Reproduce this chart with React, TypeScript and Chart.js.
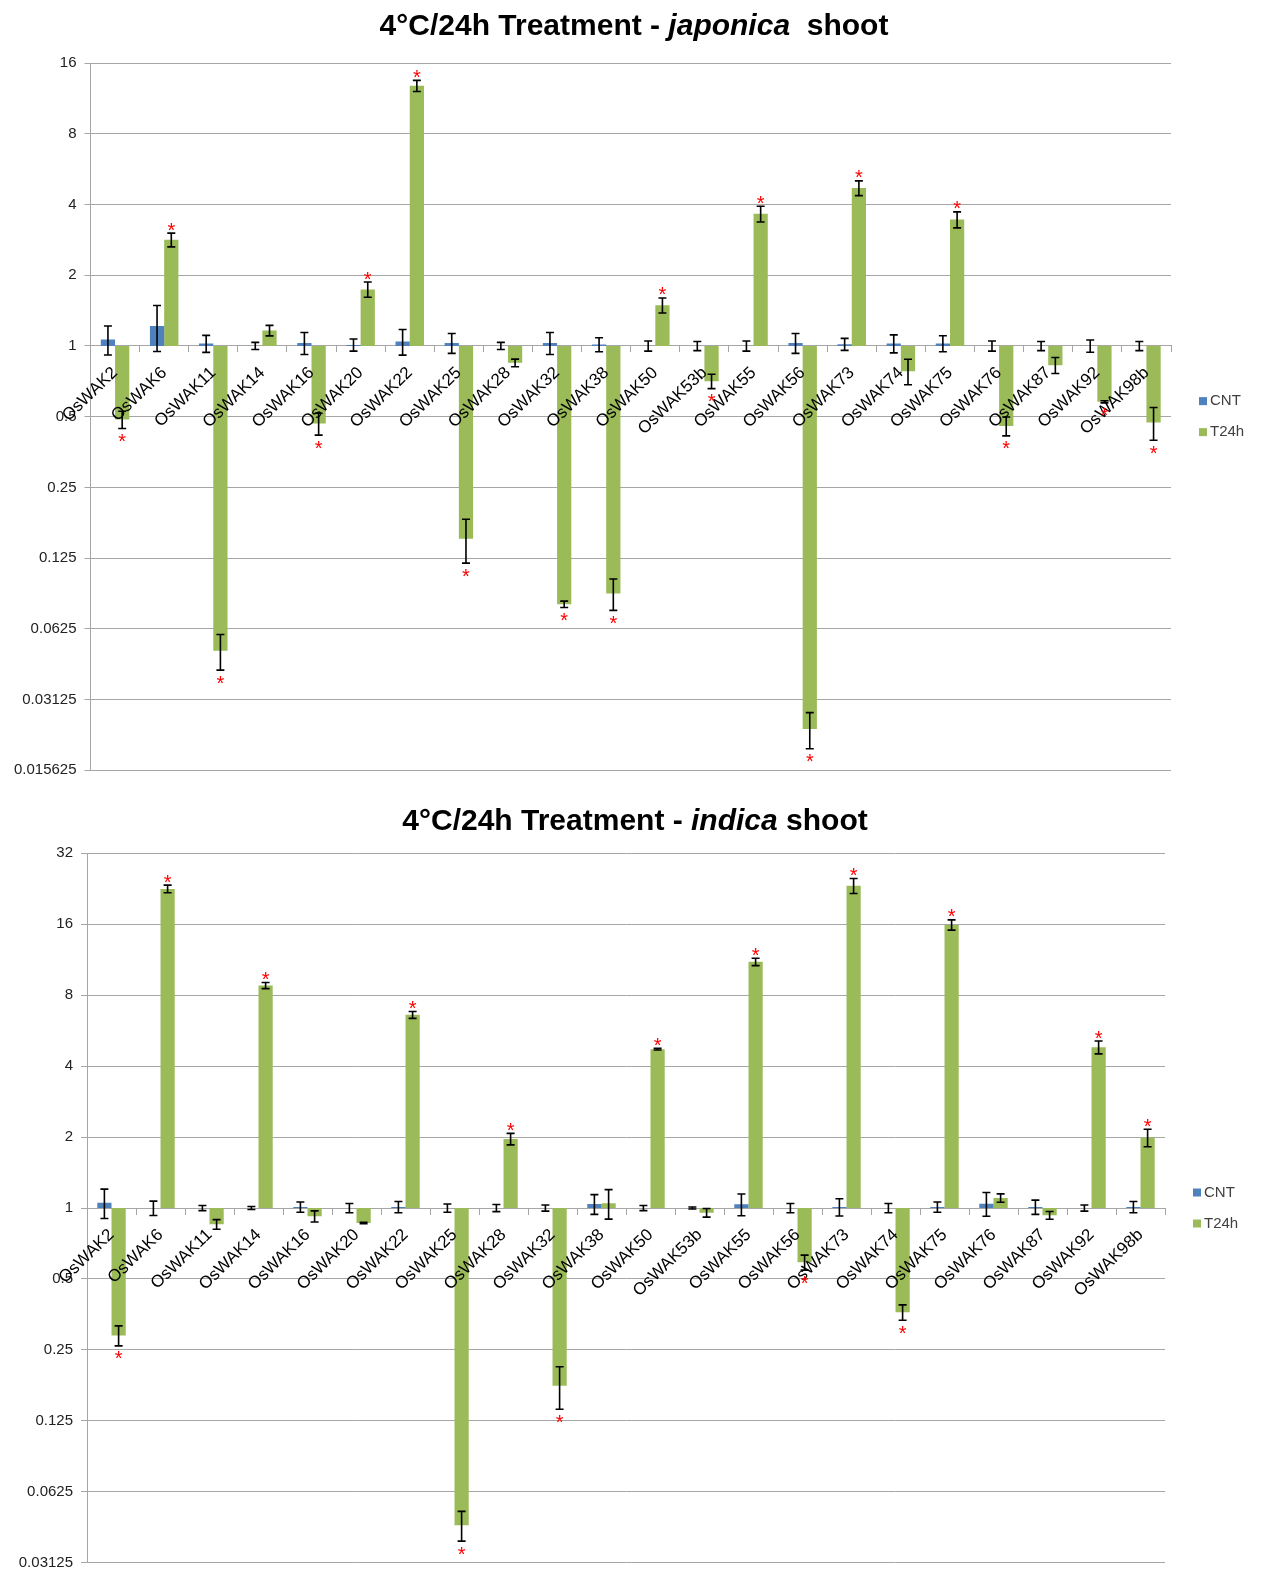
import React, { useEffect, useRef } from 'react';
import { Chart, registerables } from 'chart.js';

Chart.register(...registerables);

// ---------------- DATA ----------------
const categories = [
  'OsWAK2', 'OsWAK6', 'OsWAK11', 'OsWAK14', 'OsWAK16', 'OsWAK20', 'OsWAK22', 'OsWAK25',
  'OsWAK28', 'OsWAK32', 'OsWAK38', 'OsWAK50', 'OsWAK53b', 'OsWAK55', 'OsWAK56', 'OsWAK73',
  'OsWAK74', 'OsWAK75', 'OsWAK76', 'OsWAK87', 'OsWAK92', 'OsWAK98b',
];

const seriesNames = ['CNT', 'T24h'];

// japonica shoot
const japonicaCNT = [1.065, 1.217, 1.024, 1.0, 1.03, 1.01, 1.044, 1.03, 1.0, 1.03, 1.014, 1.0, 1.0, 1.0, 1.03, 1.017, 1.024, 1.024, 1.0, 1.0, 1.0, 1.0];
const japonicaCNTErr = [0.15, 0.27, 0.085, 0.035, 0.11, 0.06, 0.13, 0.1, 0.035, 0.11, 0.07, 0.05, 0.045, 0.05, 0.1, 0.06, 0.09, 0.08, 0.05, 0.045, 0.06, 0.045];
const japonicaT24h = [0.486, 2.83, 0.0504, 1.163, 0.467, 1.74, 12.8, 0.151, 0.847, 0.0795, 0.0884, 1.49, 0.708, 3.65, 0.0234, 4.7, 0.78, 3.45, 0.456, 0.828, 0.578, 0.472];
const japonicaT24hErr = [0.041, 0.19, 0.0087, 0.06, 0.05, 0.13, 0.7, 0.032, 0.032, 0.0025, 0.0135, 0.11, 0.05, 0.28, 0.0041, 0.34, 0.097, 0.27, 0.042, 0.065, 0.006, 0.075];
const japonicaSignificant = [true, true, true, false, true, true, true, true, false, true, true, true, true, true, true, true, false, true, true, false, true, true];
const japonicaTicks = [0.015625, 0.03125, 0.0625, 0.125, 0.25, 0.5, 1, 2, 4, 8, 16];

// indica shoot
const indicaCNT = [1.053, 1.0, 1.0, 1.0, 1.01, 1.0, 1.01, 1.0, 1.0, 1.0, 1.04, 1.0, 1.0, 1.037, 1.0, 1.01, 1.0, 1.01, 1.043, 1.01, 1.0, 1.01];
const indicaCNTErr = [0.15, 0.07, 0.025, 0.015, 0.05, 0.045, 0.055, 0.04, 0.035, 0.03, 0.1, 0.025, 0.01, 0.11, 0.045, 0.085, 0.045, 0.05, 0.12, 0.07, 0.03, 0.055];
const indicaT24h = [0.288, 22.6, 0.853, 8.79, 0.922, 0.864, 6.6, 0.0451, 1.963, 0.176, 1.047, 4.72, 0.955, 11.08, 0.588, 23.3, 0.361, 15.9, 1.103, 0.931, 4.81, 1.99];
const indicaT24hErr = [0.028, 0.85, 0.04, 0.26, 0.05, 0.006, 0.22, 0.0065, 0.11, 0.036, 0.15, 0.04, 0.04, 0.4, 0.043, 1.7, 0.027, 0.8, 0.045, 0.035, 0.3, 0.17];
const indicaSignificant = [true, true, false, true, false, false, true, true, true, true, false, true, false, true, true, true, true, true, false, false, true, true];
const indicaTicks = [0.03125, 0.0625, 0.125, 0.25, 0.5, 1, 2, 4, 8, 16, 32];

// ---------------- STYLE ----------------
const FONT = '"Liberation Sans", Arial, sans-serif';
const COLORS = ['#4F81BD', '#9BBB59'];
const GRID = '#A6A6A6';

type PanelProps = {
  top: number;
  height: number;
  cnt: number[];
  cntErr: number[];
  t24: number[];
  t24Err: number[];
  significant: boolean[];
  ticks: number[];
  titleParts: [string, string, string];
  titleBaseline: number;
  titleCenter: number;
  axisWidth: number;
  pad: { top: number; right: number; bottom: number };
};

function Panel(props: PanelProps) {
  const ref = useRef<HTMLCanvasElement>(null);

  useEffect(() => {
    const canvas = ref.current!;
    const { cnt, cntErr, t24, t24Err, significant, ticks } = props;
    const values = [cnt, t24];
    const errors = [cntErr, t24Err];

    const titlePlugin = {
      id: 'mixedTitle',
      afterDraw(chart: any) {
        const ctx = chart.ctx;
        ctx.save();
        const fonts = [`bold 30px ${FONT}`, `italic bold 30px ${FONT}`, `bold 30px ${FONT}`];
        const widths = props.titleParts.map((t, i) => {
          ctx.font = fonts[i];
          return ctx.measureText(t).width;
        });
        const total = widths.reduce((a, b) => a + b, 0);
        let x = props.titleCenter - total / 2;
        ctx.fillStyle = '#000';
        ctx.textAlign = 'left';
        ctx.textBaseline = 'alphabetic';
        props.titleParts.forEach((t, i) => {
          ctx.font = fonts[i];
          ctx.fillText(t, x, props.titleBaseline);
          x += widths[i];
        });
        ctx.restore();
      },
    };

    const errorPlugin = {
      id: 'errorBars',
      afterDatasetsDraw(chart: any) {
        const ctx = chart.ctx;
        const y = chart.scales.y;
        ctx.save();
        ctx.strokeStyle = '#000';
        ctx.lineWidth = 1.6;
        chart.data.datasets.forEach((_ds: any, di: number) => {
          const meta = chart.getDatasetMeta(di);
          meta.data.forEach((el: any, i: number) => {
            const v = values[di][i];
            const e = errors[di][i];
            const x = el.x;
            const yHi = y.getPixelForValue(v + e);
            const yLo = y.getPixelForValue(Math.max(v - e, 1e-6));
            ctx.beginPath();
            ctx.moveTo(x, yHi);
            ctx.lineTo(x, yLo);
            ctx.moveTo(x - 4, yHi);
            ctx.lineTo(x + 4, yHi);
            ctx.moveTo(x - 4, yLo);
            ctx.lineTo(x + 4, yLo);
            ctx.stroke();
          });
        });
        ctx.restore();
      },
      afterDraw(chart: any) {
        const ctx = chart.ctx;
        const y = chart.scales.y;
        const meta = chart.getDatasetMeta(1);
        ctx.save();
        ctx.fillStyle = '#FF0000';
        ctx.font = `20px ${FONT}`;
        ctx.textAlign = 'center';
        ctx.textBaseline = 'alphabetic';
        meta.data.forEach((el: any, i: number) => {
          if (!significant[i]) return;
          const v = t24[i];
          const e = t24Err[i];
          let cy: number;
          if (v >= 1) cy = y.getPixelForValue(v + e) - 8;
          else cy = y.getPixelForValue(Math.max(v - e, 1e-6)) + 8;
          ctx.fillText('*', el.x, cy + 11.5);
        });
        ctx.restore();
      },
    };

    const legendPlugin = {
      id: 'sideLegend',
      afterDraw(chart: any) {
        const ctx = chart.ctx;
        const area = chart.chartArea;
        const cy = (area.top + area.bottom) / 2;
        ctx.save();
        ctx.font = `15px ${FONT}`;
        ctx.textAlign = 'left';
        ctx.textBaseline = 'middle';
        chart.data.datasets.forEach((ds: any, i: number) => {
          const yy = cy - 15.5 + i * 31;
          const x0 = area.right + 28;
          ctx.fillStyle = ds.backgroundColor;
          ctx.fillRect(x0, yy - 4, 8, 8);
          ctx.fillStyle = '#404040';
          ctx.fillText(ds.label, x0 + 11, yy);
        });
        ctx.restore();
      },
    };

    const chart = new Chart(canvas, {
      type: 'bar',
      data: {
        labels: categories,
        datasets: seriesNames.map((name, di) => ({
          label: name,
          data: values[di].map((v) => [1, v] as [number, number]),
          backgroundColor: COLORS[di],
          borderWidth: 0,
          categoryPercentage: 0.58,
          barPercentage: 1.0,
        })),
      },
      options: {
        animation: false,
        responsive: false,
        maintainAspectRatio: false,
        layout: { padding: { left: 0, top: props.pad.top, right: props.pad.right, bottom: props.pad.bottom } },
        plugins: {
          legend: { display: false },
          title: { display: false },
          tooltip: { enabled: false },
        },
        scales: {
          x: {
            position: { y: 1 } as any,
            offset: true,
            grid: {
              display: true,
              drawOnChartArea: false,
              drawTicks: true,
              tickLength: 6,
              color: GRID,
              offset: true,
            },
            border: { color: GRID, width: 1 },
            ticks: {
              autoSkip: false,
              minRotation: 44,
              maxRotation: 44,
              color: '#000',
              font: { family: FONT, size: 17 },
              padding: 11,
              z: 1,
            },
            afterFit: (s: any) => {
              s.paddingLeft = 0;
              s.paddingRight = 0;
            },
          },
          y: {
            type: 'logarithmic',
            min: ticks[0],
            max: ticks[ticks.length - 1],
            afterBuildTicks: (s: any) => {
              s.ticks = ticks.map((v) => ({ value: v }));
            },
            afterFit: (s: any) => {
              s.width = props.axisWidth;
              s.paddingTop = 0;
              s.paddingBottom = 0;
            },
            grid: { color: GRID, tickLength: 6, lineWidth: 1 },
            border: { color: GRID, width: 1 },
            ticks: {
              callback: (v: any) => String(v),
              color: '#222',
              font: { family: FONT, size: 15 },
              padding: 8,
            },
          },
        },
      } as any,
      plugins: [errorPlugin, legendPlugin, titlePlugin],
    });
    return () => chart.destroy();
  }, []);

  return (
    <canvas
      ref={ref}
      width={1271}
      height={props.height}
      style={{ position: 'absolute', left: 0, top: props.top, width: 1271, height: props.height, display: 'block' }}
    />
  );
}

export default function App() {
  return (
    <div style={{ position: 'absolute', left: 0, top: 0, width: 1271, height: 1572, background: '#fff', overflow: 'hidden' }}>
      <Panel
        top={0}
        height={790}
        cnt={japonicaCNT}
        cntErr={japonicaCNTErr}
        t24={japonicaT24h}
        t24Err={japonicaT24hErr}
        significant={japonicaSignificant}
        ticks={japonicaTicks}
        titleParts={['4°C/24h Treatment - ', 'japonica', '  shoot']}
        titleBaseline={35}
        titleCenter={634}
        axisWidth={90.5}
        pad={{ top: 63, right: 100, bottom: 19.7 }}
      />
      <Panel
        top={790}
        height={782}
        cnt={indicaCNT}
        cntErr={indicaCNTErr}
        t24={indicaT24h}
        t24Err={indicaT24hErr}
        significant={indicaSignificant}
        ticks={indicaTicks}
        titleParts={['4°C/24h Treatment - ', 'indica', ' shoot']}
        titleBaseline={39.5}
        titleCenter={635}
        axisWidth={87}
        pad={{ top: 63.3, right: 106, bottom: 9.3 }}
      />
    </div>
  );
}
